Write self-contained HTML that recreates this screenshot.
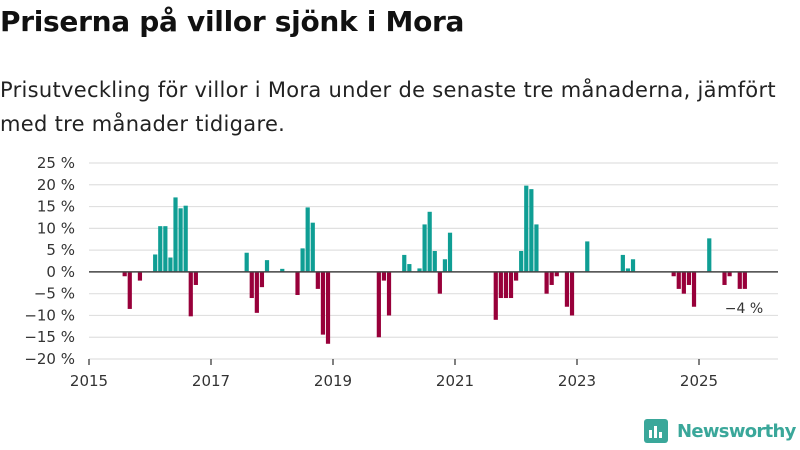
<!DOCTYPE html>
<html><head><meta charset="utf-8"><style>
body{margin:0;width:800px;height:450px;background:#fff;font-family:"Liberation Sans","DejaVu Sans",sans-serif;overflow:hidden;position:relative}
#title{position:absolute;left:0;top:5px;font-size:28px;font-weight:bold;color:#111;font-family:"DejaVu Sans","Liberation Sans",sans-serif;letter-spacing:-0.3px}
#sub{position:absolute;left:0;top:73px;font-size:21px;line-height:34px;color:#222;width:800px;white-space:nowrap;font-family:"DejaVu Sans","Liberation Sans",sans-serif;letter-spacing:0.3px}
svg{position:absolute;left:0;top:0}
</style></head><body>
<div id="title">Priserna på villor sjönk i Mora</div>
<div id="sub">Prisutveckling för villor i Mora under de senaste tre månaderna, jämfört<br>med tre månader tidigare.</div>
<svg id="chart" width="800" height="450"></svg>
<script>
const months=["2015-08","2015-09","2015-11","2016-02","2016-03","2016-04","2016-05","2016-06","2016-07","2016-08","2016-09","2016-10","2017-08","2017-09","2017-10","2017-11","2017-12","2018-03","2018-06","2018-07","2018-08","2018-09","2018-10","2018-11","2018-12","2019-10","2019-11","2019-12","2020-03","2020-04","2020-06","2020-07","2020-08","2020-09","2020-10","2020-11","2020-12","2021-09","2021-10","2021-11","2021-12","2022-01","2022-02","2022-03","2022-04","2022-05","2022-07","2022-08","2022-09","2022-11","2022-12","2023-03","2023-10","2023-11","2023-12","2024-08","2024-09","2024-10","2024-11","2024-12","2025-03","2025-06","2025-07","2025-09","2025-10"];
const values=[-1,-8.5,-2,4,10.5,10.5,3.3,17.1,14.6,15.2,-10.2,-3,4.4,-6,-9.4,-3.5,2.7,0.7,-5.3,5.4,14.8,11.3,-3.9,-14.4,-16.5,-15,-2,-10,3.9,1.8,0.8,10.9,13.8,4.8,-5,2.9,9,-11,-6,-6,-6,-2,4.8,19.8,19,10.9,-5,-3,-1,-8,-10,7,3.9,0.8,2.9,-1,-3.9,-5,-3,-8,7.7,-3,-1,-3.9,-3.9];
const yTicks=[25,20,15,10,5,0,-5,-10,-15,-20];
const xTicks=[2015,2017,2019,2021,2023,2025];
const NS="http://www.w3.org/2000/svg";
const svg=document.getElementById('chart');
const y0=163,yPer=4.356,x0=89,perMonth=61/12;
const yS=v=>y0+(25-v)*yPer;
const xS=(yr,m)=>x0+((yr-2015)*12+m)*perMonth;
function mk(t,a){const e=document.createElementNS(NS,t);for(const k in a)e.setAttribute(k,a[k]);svg.appendChild(e);return e;}
yTicks.forEach(v=>{
 const l=mk('line',{x1:89,x2:778,y1:yS(v),y2:yS(v),stroke:'#e0e0e0','stroke-width':1.2});
 
 
 const t=mk('text',{x:75,y:yS(v)+5,'text-anchor':'end','font-size':15,fill:'#333','font-family':'DejaVu Sans, Liberation Sans, sans-serif'});
 t.textContent=(v<0?'−'+(-v):v)+' %';
 
 
});
xTicks.forEach(yr=>{
 const x=xS(yr,0);
 const l=mk('line',{x1:x,x2:x,y1:359,y2:365,stroke:'#555','stroke-width':1.5});
 
 
 const t=mk('text',{x:x,y:386,'text-anchor':'middle','font-size':15,fill:'#333','font-family':'DejaVu Sans, Liberation Sans, sans-serif'});
 t.textContent=yr;
 
 
});
months.forEach((s,i)=>{
 const [yr,mo]=s.split('-').map(Number);
 const v=values[i];
 const cx=xS(yr,mo-1);
 const ya=yS(Math.max(v,0)),yb=yS(Math.min(v,0));
 const r=mk('rect',{x:cx-2,y:ya,width:4.2,height:Math.max(yb-ya,0.5),fill:v>=0?'#0f9e94':'#98003a'});
 
 
});
const z=mk('line',{x1:89,x2:778,y1:yS(0),y2:yS(0),stroke:'#444','stroke-width':1.5});


const last=values[values.length-1];
const lb=mk('text',{x:744,y:313,'text-anchor':'middle','font-size':14,fill:'#333','font-family':'DejaVu Sans, Liberation Sans, sans-serif'});
lb.textContent='−'+Math.round(-last)+' %';


</script>
<div style="position:absolute;left:644px;top:419px;display:flex;align-items:center">
 <div style="width:24px;height:24px;background:#3aa79a;border-radius:3px;position:relative">
  <div style="position:absolute;left:5px;bottom:5px;width:3px;height:8px;background:#fff"></div>
  <div style="position:absolute;left:10px;bottom:5px;width:3px;height:12px;background:#fff"></div>
  <div style="position:absolute;left:15px;bottom:5px;width:3px;height:6px;background:#fff"></div>
 </div>
 <span style="margin-left:9px;font-size:18px;font-weight:bold;color:#3aa79a;font-family:'DejaVu Sans','Liberation Sans',sans-serif;letter-spacing:-0.7px">Newsworthy</span>
</div>
</body></html>
